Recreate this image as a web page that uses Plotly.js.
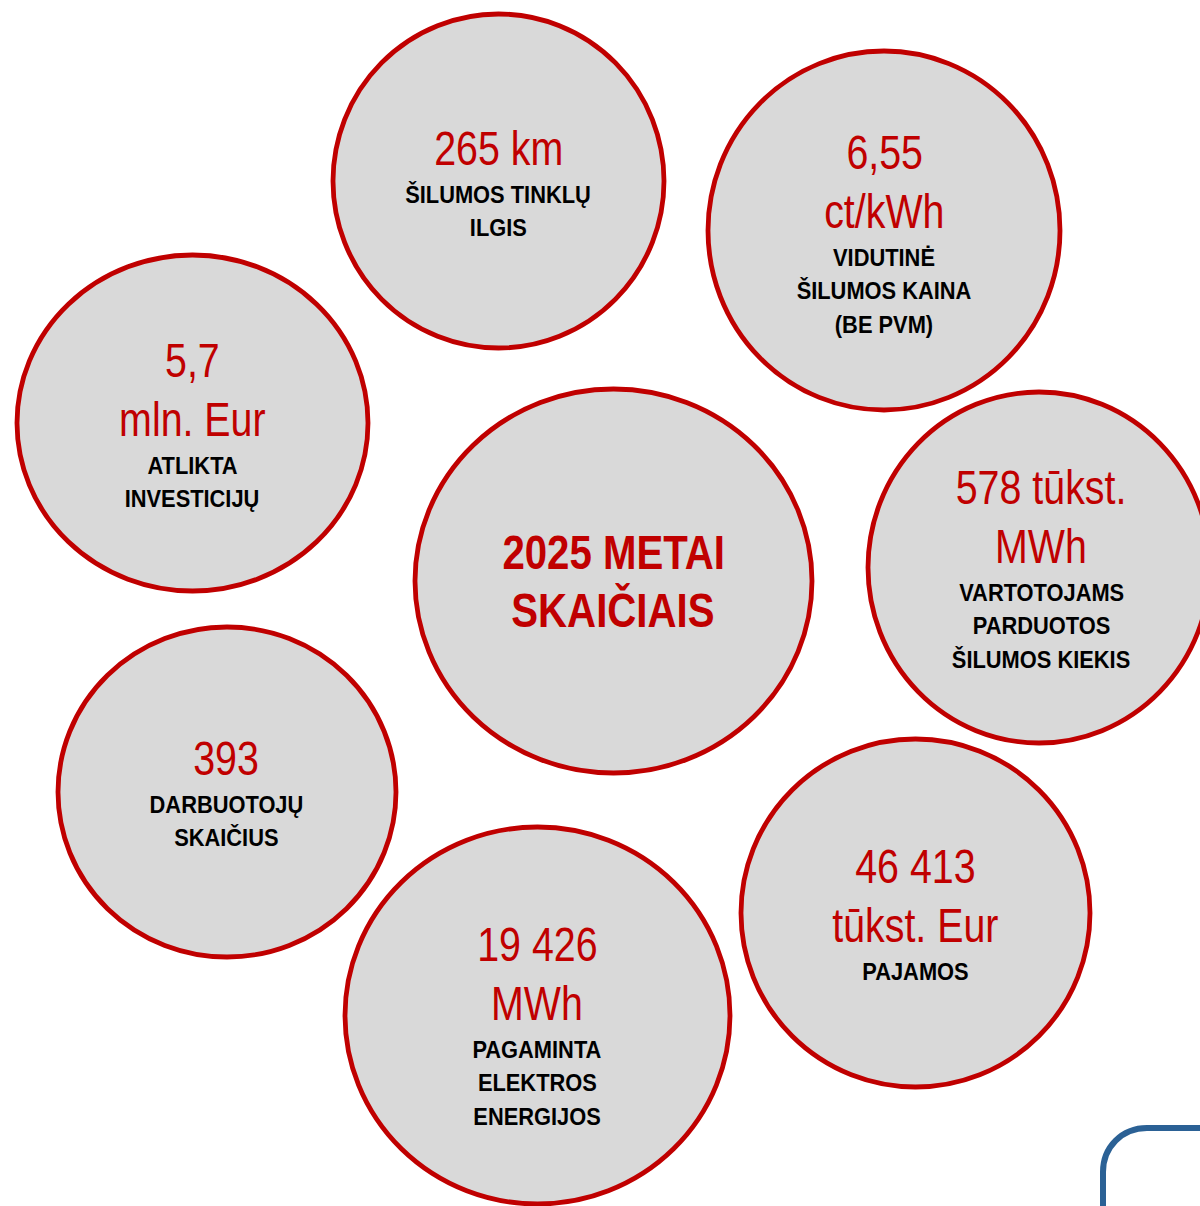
<!DOCTYPE html>
<html>
<head>
<meta charset="utf-8">
<script src="https://cdn.plot.ly/plotly-3.0.1.min.js"></script>
<style>html,body{margin:0;padding:0;background:#fff;}#chart{width:1200px;height:1206px;}</style>
</head>
<body>
<div id="chart"></div>
<script>
// Data: headline values and their descriptions
var titleLines = ["2025 METAI", "SKAIČIAIS"];
var valueLines = [
  ["265 km"],
  ["6,55", "ct/kWh"],
  ["5,7", "mln. Eur"],
  ["578 tūkst.", "MWh"],
  ["393"],
  ["46 413", "tūkst. Eur"],
  ["19 426", "MWh"]
];
var labelLines = [
  ["ŠILUMOS TINKLŲ", "ILGIS"],
  ["VIDUTINĖ", "ŠILUMOS KAINA", "(BE PVM)"],
  ["ATLIKTA", "INVESTICIJŲ"],
  ["VARTOTOJAMS", "PARDUOTOS", "ŠILUMOS KIEKIS"],
  ["DARBUOTOJŲ", "SKAIČIUS"],
  ["PAJAMOS"],
  ["PAGAMINTA", "ELEKTROS", "ENERGIJOS"]
];

// Layout: bubble bounds [x0, x1, y0, y1] and first text line position
var bubbleBox = [
  [333, 664, 14, 348],
  [708, 1060, 51, 410],
  [17, 368, 255, 591],
  [868, 1210, 392, 743],
  [58, 396, 627, 957],
  [741, 1090, 739, 1087],
  [345, 730, 827, 1204]
];
var textAnchor = [
  [498, 148],
  [884, 152],
  [192, 360],
  [1041, 487],
  [226, 758],
  [915, 866],
  [537, 944]
];
var centerBox = [415, 812, 389, 773];
var centerAnchor = [613, 552];

var FONT = "'Liberation Sans', Arial, sans-serif";
var RED = "#C00000";
var valueStep = 59, labelStep = 33.5, gap = 46;

var shapes = [];
var annotations = [];
var narrowBy = []; // per-annotation glyph condensing to mimic a narrow face
function bubble(b) {
  shapes.push({type: "circle", xref: "x", yref: "y", x0: b[0], x1: b[1], y0: b[2], y1: b[3],
    fillcolor: "#D9D9D9", line: {color: RED, width: 4.8}, layer: "below"});
}
function label(x, y, t, size, color, bold, narrow) {
  annotations.push({xref: "x", yref: "y", x: x, y: y, text: bold ? "<b>" + t + "</b>" : t,
    showarrow: false, xanchor: "center", yanchor: "middle",
    font: {family: FONT, size: size, color: color}});
  narrowBy.push(narrow);
}

bubble(centerBox);
titleLines.forEach(function (t, i) { label(centerAnchor[0], centerAnchor[1] + i * 58, t, 49, RED, true, 0.82); });

bubbleBox.forEach(function (b, k) {
  bubble(b);
  var x = textAnchor[k][0], y = textAnchor[k][1];
  valueLines[k].forEach(function (t, i) { label(x, y + i * valueStep, t, 48, RED, false, 0.82); });
  var y2 = y + (valueLines[k].length - 1) * valueStep + gap;
  labelLines[k].forEach(function (t, i) { label(x, y2 + i * labelStep, t, 24, "#000000", true, 0.91); });
});

// decorative blue rounded frame corner
shapes.push({type: "path", xref: "x", yref: "y",
  path: "M 1103 1215 L 1103 1172 C 1103 1147 1122 1128 1147 1128 L 1215 1128",
  line: {color: "#2B6195", width: 6}});

var layout = {
  width: 1200, height: 1206,
  margin: {l: 0, r: 0, t: 0, b: 0},
  paper_bgcolor: "#FFFFFF", plot_bgcolor: "#FFFFFF",
  xaxis: {range: [0, 1200], visible: false, fixedrange: true},
  yaxis: {range: [1206, 0], visible: false, fixedrange: true},
  showlegend: false,
  shapes: shapes,
  annotations: annotations
};
Plotly.newPlot("chart", [{x: [], y: [], type: "scatter", mode: "markers"}], layout, {staticPlot: true})
  .then(function (gd) {
    var groups = gd.querySelectorAll("g.annotation");
    groups.forEach(function (g) {
      var idx = +g.getAttribute("data-index");
      var el = g.querySelector("text.annotation-text");
      if (!el) return;
      var f = narrowBy[idx] || 0.85;
      var w = el.getComputedTextLength();
      el.setAttribute("textLength", (w * f).toFixed(1));
      el.setAttribute("lengthAdjust", "spacingAndGlyphs");
    });
  });
</script>
</body>
</html>
